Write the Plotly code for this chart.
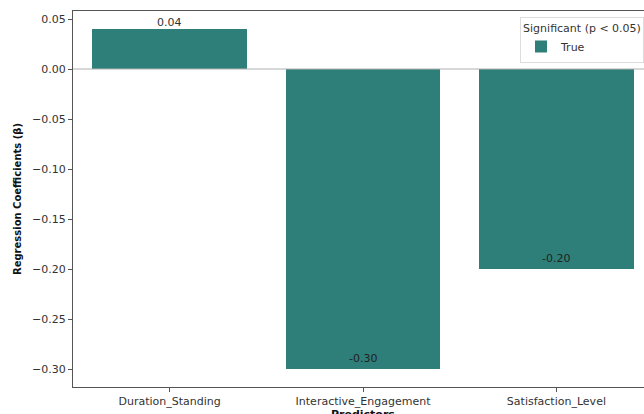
import plotly.graph_objects as go

predictors = ["Duration_Standing", "Interactive_Engagement", "Satisfaction_Level"]
coefficients = [0.04, -0.30, -0.20]
labels = ["0.04", "-0.30", "-0.20"]
y_ticks = [0.05, 0.00, -0.05, -0.10, -0.15, -0.20, -0.25, -0.30]
y_tick_text = ["0.05", "0.00", "\u22120.05", "\u22120.10", "\u22120.15", "\u22120.20", "\u22120.25", "\u22120.30"]

BAR = "#2e7f79"
FONT = "DejaVu Sans"

fig = go.Figure()
fig.add_trace(go.Bar(
    x=list(range(len(predictors))), y=coefficients, width=0.8,
    marker=dict(color=BAR, line=dict(width=0)),
    name="True", showlegend=True,
))

for i, (v, t) in enumerate(zip(coefficients, labels)):
    fig.add_annotation(x=i, y=v, text=t, showarrow=False,
                       yshift=(7 if v > 0 else 11),
                       font=dict(family=FONT, size=11, color="#222" if v < 0 else "#333"))

fig.add_hline(y=0, line=dict(color="#b0b0b0", width=1))

# x-axis title (cropped at the bottom edge as in the reference)
fig.add_annotation(text="<b>Predictors</b>", xref="paper", yref="paper",
                   x=0.508, y=-0.074, xanchor="center", yanchor="middle",
                   showarrow=False, font=dict(family=FONT, size=11, color="#111"))

fig.update_layout(
    width=644, height=414,
    margin=dict(l=73, r=0, t=11, b=27),
    plot_bgcolor="white", paper_bgcolor="white",
    font=dict(family=FONT, size=10, color="#333"),
    bargap=0,
    legend=dict(
        title=dict(text="Significant (p < 0.05)", side="top center",
                   font=dict(family=FONT, size=11, color="#333")),
        font=dict(family=FONT, size=11, color="#333"),
        x=1.0, xanchor="right", y=0.985, yanchor="top",
        bordercolor="#dddddd", borderwidth=1, bgcolor="rgba(255,255,255,0.9)",
        itemwidth=30,
    ),
    xaxis=dict(
        range=[-0.5, 2.453], automargin=False,
        tickmode="array", tickvals=list(range(len(predictors))), ticktext=predictors,
        showline=True, linecolor="#555", linewidth=1, mirror=True,
        ticks="outside", ticklen=4, tickcolor="#555",
        showgrid=False, zeroline=False,
        tickfont=dict(family=FONT, size=11, color="#333"),
    ),
    yaxis=dict(
        range=[-0.318, 0.058], automargin=False,
        tickmode="array", tickvals=y_ticks, ticktext=y_tick_text,
        showline=True, linecolor="#555", linewidth=1,
        ticks="outside", ticklen=4, tickcolor="#555",
        showgrid=False, zeroline=False,
        tickfont=dict(family=FONT, size=11, color="#333"),
        title=dict(text="<b>Regression Coefficients (\u03b2)</b>", standoff=8,
                   font=dict(family=FONT, size=10, color="#111")),
    ),
)

fig.write_html("out.html")
